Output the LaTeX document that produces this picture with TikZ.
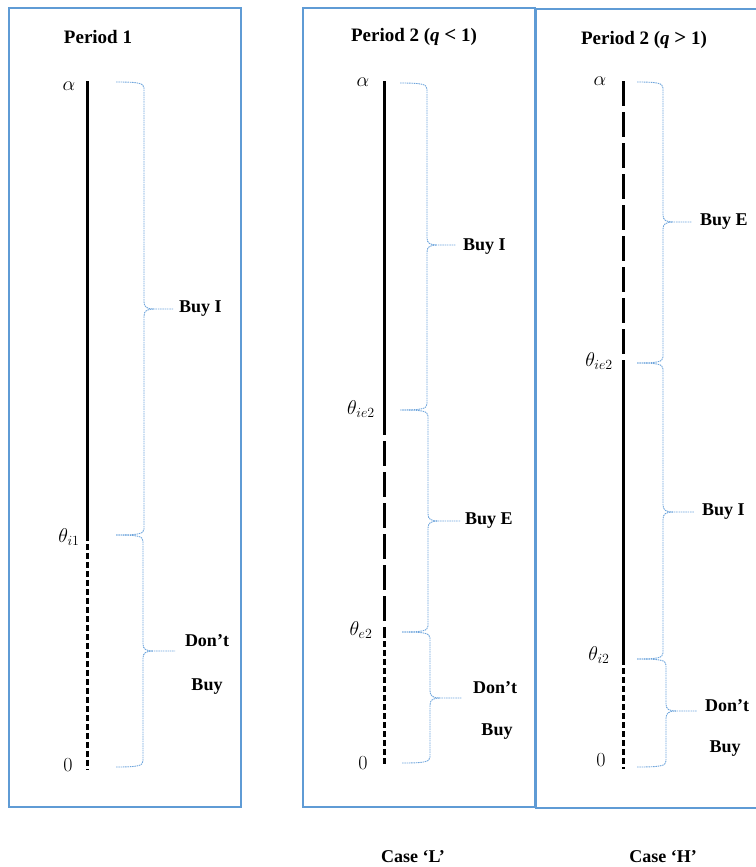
\RequirePackage{fix-cm}
\documentclass[tikz,border=0pt]{standalone}
\usepackage{amsmath}
\usepackage{fontspec}
\setmainfont{Liberation Serif}
\definecolor{bblue}{RGB}{95,155,213}
\definecolor{brline}{RGB}{110,165,220}
\tikzset{
  frame/.style={draw=bblue, line width=1.8pt},
  axisline/.style={line width=3pt, black},
  longdash/.style={axisline, dash pattern=on 25pt off 6pt},
  shortdash/.style={axisline, dash pattern=on 6pt off 3pt},
  brc/.style={draw=brline, line width=0.9pt, dash pattern=on 1.5pt off 0.8pt},
  lab/.style={font=\fontsize{18}{20}\selectfont\bfseries, inner sep=0pt},
  ttl/.style={font=\fontsize{19}{22}\selectfont\bfseries, inner sep=0pt},
  mth/.style={font=\fontsize{20}{23}\selectfont, inner sep=0pt},
}
% x0, ytop, ybot, ymid, xv, xtip
\newcommand\mybrace[6]{%
  \draw[brc] (#1,#2) .. controls ({#5-6},#2) and (#5,{#2+1}) .. (#5,{#2+6})
     -- (#5,{#4-7}) .. controls (#5,{#4-2}) and ({#5+3},#4) .. ({#5+10},#4) -- (#6,#4);
  \draw[brc] (#1,#3) .. controls ({#5-6},#3) and (#5,{#3-1}) .. (#5,{#3-6})
     -- (#5,{#4+7}) .. controls (#5,{#4+2}) and ({#5+3},#4) .. ({#5+10},#4);
}
\begin{document}
\begin{tikzpicture}[x=1pt,y=-1pt]
\useasboundingbox (0,0) rectangle (755,867);

% frames
\draw[frame] (9,8) rectangle (241,807);
\draw[frame] (303,8) rectangle (535,807);
\draw[frame] (757,9) -- (536,9) -- (536,808) -- (757,808);

% titles
\node[ttl] (t1) at (98,37) {Period 1};
\node[ttl] (t2) at (414,37) {Period 2 (\textit{q} {\fontsize{21}{22}\selectfont<} 1)};
\node[ttl] (t3) at (644,40) {Period 2 (\textit{q} {\fontsize{21}{22}\selectfont>} 1)};

% ---------- Panel 1 ----------
\coordinate (a1) at (87,81);
\coordinate (b1) at (87,535);
\coordinate (z1) at (87,770);
\draw[axisline] (a1) -- (b1);
\draw[shortdash] (b1) -- (z1);
\node[mth] (la1) at (69,86) {$\alpha$};
\node[mth] (lb1) at (69,537) {$\theta_{i1}$};
\node[mth] (lz1) at (68,765) {$0$};
\mybrace{116}{82}{535}{309}{144}{173}
\mybrace{116}{535}{767}{651}{143}{175}
\node[lab, anchor=west] (buyi1) at (179,309) {Buy I};
\node[lab] (dont1) at (207,641) {Don’t};
\node[lab] (buy1) at (207,687) {Buy};

% ---------- Panel 2 ----------
\coordinate (a2) at (384,81);
\coordinate (b2) at (384,410);
\coordinate (c2) at (384,632);
\coordinate (z2) at (384,766);
\draw[axisline] (a2) -- (b2);
\draw[longdash] (b2) -- (c2);
\draw[shortdash] (c2) -- (z2);
\node[mth] (la2) at (363,82) {$\alpha$};
\node[mth] (lb2) at (361,409) {$\theta_{ie2}$};
\node[mth] (lc2) at (361,630) {$\theta_{e2}$};
\node[mth] (lz2) at (363,763) {$0$};
\mybrace{400}{83}{410}{245}{427}{456}
\mybrace{402}{410}{632}{521}{428}{460}
\mybrace{402}{632}{763}{698}{430}{462}
\node[lab, anchor=west] (buyi2) at (463,247) {Buy I};
\node[lab, anchor=west] (buye2) at (465,521) {Buy E};
\node[lab] (dont2) at (495,688) {Don’t};
\node[lab] (buy2) at (497,732) {Buy};

% ---------- Panel 3 ----------
\coordinate (a3) at (623,81);
\coordinate (b3) at (623,363);
\coordinate (c3) at (623,659);
\coordinate (z3) at (623,769);
\draw[longdash] (a3) -- (b3);
\draw[axisline] (b3) -- (c3);
\draw[shortdash] (c3) -- (z3);
\node[mth] (la3) at (600,81) {$\alpha$};
\node[mth] (lb3) at (599,361) {$\theta_{ie2}$};
\node[mth] (lc3) at (599,655) {$\theta_{i2}$};
\node[mth] (lz3) at (601,760) {$0$};
\mybrace{637}{82}{363}{222}{663}{692}
\mybrace{637}{363}{659}{512}{663}{694}
\mybrace{637}{659}{767}{711}{666}{697}
\node[lab, anchor=west] (buye3) at (700,222) {Buy E};
\node[lab, anchor=west] (buyi3) at (702,512) {Buy I};
\node[lab] (dont3) at (727,706) {Don’t};
\node[lab] (buy3) at (725,749) {Buy};

% captions
\node[lab] (casel) at (413,857) {Case ‘L’};
\node[lab] (caseh) at (663,857) {Case ‘H’};
\end{tikzpicture}
\end{document}
